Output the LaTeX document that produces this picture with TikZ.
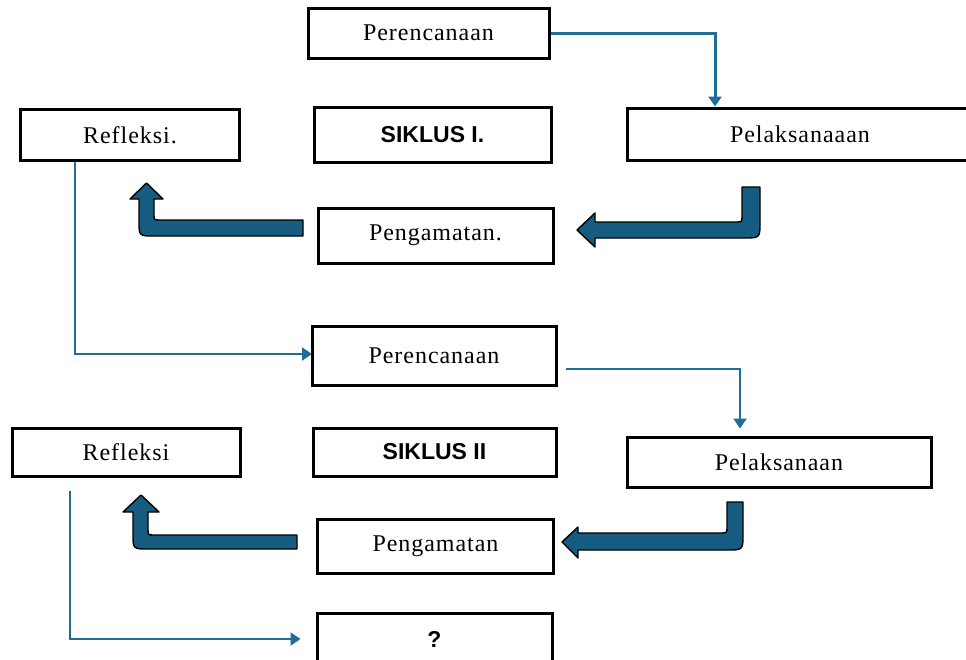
\documentclass[tikz,border=0pt]{standalone}
\usepackage{fontspec}
\setmainfont{Liberation Serif}
\newfontfamily\stagefont[LetterSpace=4]{Liberation Serif}
\newfontfamily\cyclefont{Liberation Sans}
\usetikzlibrary{arrows.meta,calc}
\definecolor{arrowblue}{RGB}{21,92,128}
\definecolor{lineblue}{RGB}{32,110,150}
\tikzset{
  stagebox/.style={draw=black,line width=3pt,inner sep=0pt,
    font=\stagefont\fontsize{24}{28}\selectfont},
  cyclebox/.style={stagebox,font=\cyclefont\bfseries\fontsize{23}{27}\selectfont},
  link/.style={draw=lineblue,line width=2pt,-{Triangle[width=13pt,length=10pt]}},
  bigarrow/.style={fill=arrowblue,draw=black,line width=1.4pt,line join=round}
}

\begin{document}
\begin{tikzpicture}[x=1pt,y=-1pt]
\useasboundingbox (0,0) rectangle (966,659);

% Siklus I
\node[stagebox,minimum width=241pt,minimum height=50pt] (per1) at (428.5,33) {Perencanaan};
\node[cyclebox,minimum width=237pt,minimum height=55pt] (sik1) at (432.5,134.5) {SIKLUS I.};
\node[stagebox,minimum width=346pt,minimum height=52pt] (pel1) at (800,134) {Pelaksanaaan};
\node[stagebox,minimum width=219pt,minimum height=51pt] (ref1) at (130,135) {Refleksi.};
\node[stagebox,minimum width=235pt,minimum height=55pt] (pen1) at (435.5,235.5) {Pengamatan.};

\draw[link,line width=3pt] (per1.east) -| (715,0 |- pel1.north);
\draw[link] (75,0 |- ref1.south) |- (312,354);

% big turning arrows, cycle I
\filldraw[bigarrow] (760,187) -- (760,222) .. controls (760,238) .. (744,238)
  -- (595,238) -- (595,247) -- (577,230) -- (595,213) -- (595,222)
  -- (736,222) .. controls (742,222) .. (742,216) -- (742,187) -- cycle;
\filldraw[bigarrow] (303,220) -- (160,220) .. controls (154,220) .. (154,214)
  -- (154,199) -- (163,199) -- (146.5,183) -- (130,199) -- (139,199)
  -- (139,221) .. controls (139,236) .. (154,236) -- (303,236) -- cycle;

% Siklus II
\node[stagebox,minimum width=244pt,minimum height=59pt] (per2) at (434,355.5) {Perencanaan};
\node[cyclebox,minimum width=243pt,minimum height=48pt] (sik2) at (434.5,452) {SIKLUS II};
\node[stagebox,minimum width=304pt,minimum height=50pt] (pel2) at (779,462) {Pelaksanaan};
\node[stagebox,minimum width=228pt,minimum height=48pt] (ref2) at (126,452) {Refleksi};
\node[stagebox,minimum width=236pt,minimum height=54pt] (pen2) at (435.5,546.5) {Pengamatan};
\node[cyclebox,minimum width=235pt,minimum height=52pt] (q) at (434.5,639) {?};

\draw[link,shorten >=7pt] ([xshift=8pt,yshift=-13.5pt]per2.east) -| (740,0 |- pel2.north);
\draw[link,shorten <=13pt,shorten >=15pt] (70,0 |- ref2.south) |- (q.west);

% big turning arrows, cycle II
\filldraw[bigarrow] (743,502) -- (743,534) .. controls (743,550) .. (727,550)
  -- (578,550) -- (578,558) -- (562,542) -- (578,527) -- (578,533)
  -- (721,533) .. controls (727,533) .. (727,527) -- (727,502) -- cycle;
\filldraw[bigarrow] (297,535) -- (154,535) .. controls (148,535) .. (148,529)
  -- (148,512) -- (159,512) -- (141,495) -- (123,512) -- (133,512)
  -- (133,534) .. controls (133,549) .. (148,549) -- (297,549) -- cycle;
\end{tikzpicture}
\end{document}
